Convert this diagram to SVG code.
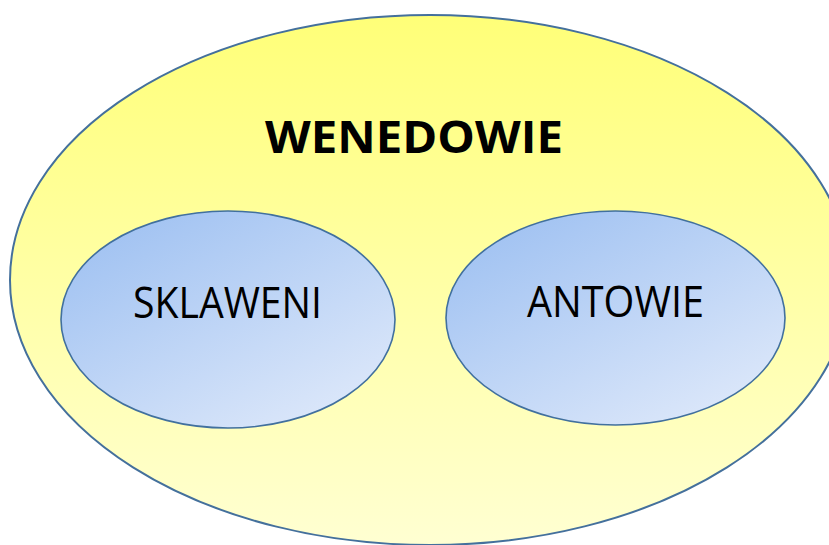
<svg xmlns="http://www.w3.org/2000/svg" width="829" height="545" viewBox="0 0 829 545">
  <defs>
    <linearGradient id="gy" x1="0" y1="0" x2="0" y2="1">
      <stop offset="0" stop-color="#FFFF78"/>
      <stop offset="1" stop-color="#FFFFD2"/>
    </linearGradient>
    <linearGradient id="gb" x1="0.15" y1="0.1" x2="0.85" y2="0.95">
      <stop offset="0" stop-color="#A2C3F2"/>
      <stop offset="1" stop-color="#DDE8FA"/>
    </linearGradient>
    <style>
      .outer { fill: url(#gy); stroke: #44709C; stroke-width: 2; }
      .inner { fill: url(#gb); stroke: #41709E; stroke-width: 1.6; }
      .lbl { font-family: "Open Sans", "Liberation Sans", sans-serif; fill: #000; text-anchor: middle; }
    </style>
  </defs>
  <rect width="829" height="545" fill="#FFFFFF"/>
  <g id="wenedowie">
    <ellipse class="outer" cx="430" cy="280" rx="420" ry="265"/>
    <text class="lbl" x="414" y="153" font-size="45" font-weight="bold" textLength="298" lengthAdjust="spacingAndGlyphs">WENEDOWIE</text>
  </g>
  <g id="sklaweni">
    <ellipse class="inner" cx="228" cy="319.5" rx="167" ry="108.5"/>
    <text class="lbl" x="227.5" y="318" font-size="43" textLength="189" lengthAdjust="spacingAndGlyphs">SKLAWENI</text>
  </g>
  <g id="antowie">
    <ellipse class="inner" cx="615.5" cy="318" rx="169.5" ry="107"/>
    <text class="lbl" x="615.5" y="317" font-size="43" textLength="177" lengthAdjust="spacingAndGlyphs">ANTOWIE</text>
  </g>
  <g id="connectors"/>
</svg>
